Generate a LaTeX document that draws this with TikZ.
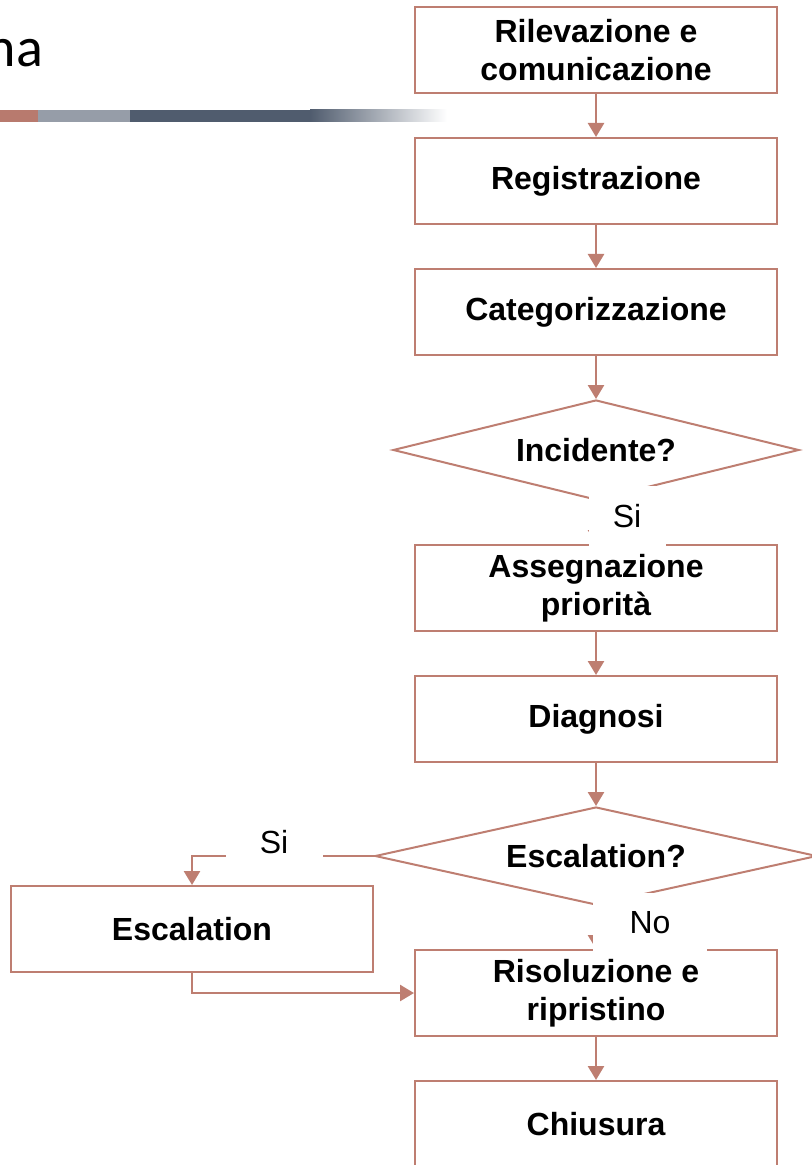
\documentclass[tikz,border=0pt]{standalone}
\usepackage{fontspec}
\setmainfont{Liberation Sans}
\newfontfamily\titlefont{Carlito}
\usetikzlibrary{positioning, shapes.geometric, arrows.meta}
\definecolor{myroseline}{RGB}{190, 126, 113}
\definecolor{mybarred}{RGB}{184, 122, 110}
\definecolor{mybargrey}{RGB}{150, 157, 168}
\definecolor{mybarslate}{RGB}{80, 92, 110}

\begin{document}
\begin{tikzpicture}[x = 0.5pt, y = -0.5pt, node distance = 21.5pt, line width = 1pt,
  state/.style = {draw = myroseline, rectangle, minimum width = 181pt, minimum height = 43pt, align = center, font = \bfseries\fontsize{16}{19}\selectfont},
  choice/.style = {draw = myroseline, diamond, aspect = 4, inner sep = 0pt, font = \bfseries\fontsize{16}{19}\selectfont},
  answer/.style = {fill = white, inner sep = 0pt, font = \fontsize{16}{19}\selectfont},
  flow/.style = {draw = myroseline, line width = 1.3pt, -{Triangle[length = 7pt, width = 8pt]}}]
  \clip (0,0) rectangle (812,1165);

  % title
  \node [anchor = base east, inner sep = 0pt, font = \titlefont\fontsize{28}{34}\selectfont] (title) at (44,67) {na};
  \fill [mybarred] (0,110) rectangle (38,122);
  \fill [mybargrey] (38,110) rectangle (130,122);
  \fill [mybarslate] (130,110) rectangle (310,122);
  \shade [left color = mybarslate, right color = white] (310,110) rectangle (447,122);

  % nodes
  \node [state] (rilev) at (596,50) {Rilevazione e\\comunicazione};
  \node [state][below = of rilev] (regis) {Registrazione};
  \node [state][below = of regis] (categ) {Categorizzazione};
  \node [choice, minimum width = 203pt, minimum height = 50pt][below = of categ] (incid) {Incidente?};
  \node [state][below = of incid] (prior) {Assegnazione\\priorità};
  \node [state][below = of prior] (diagn) {Diagnosi};
  \node [choice, minimum width = 221pt, minimum height = 49pt][below = of diagn] (esc_q) {Escalation?};
  \node [state][below = of esc_q] (risol) {Risoluzione e\\ripristino};
  \node [state][below = of risol] (chius) {Chiusura};
  \node [state] (escal) at (192,929) {Escalation};

  % edges
  \draw [flow] (rilev) to (regis);
  \draw [flow] (regis) to (categ);
  \draw [flow] (categ) to (incid);
  \draw [flow] (incid) to (prior);
  \draw [flow] (prior) to (diagn);
  \draw [flow] (diagn) to (esc_q);
  \draw [flow] (esc_q.west) -| (escal.north);
  \draw [flow] (esc_q) to (risol);
  \draw [flow] (escal.south) |- (risol.west);
  \draw [flow] (risol) to (chius);

  % answers
  \node [answer, minimum width = 38.5pt, minimum height = 30pt] (si_inc) at (627,516) {Si};
  \node [answer, minimum width = 57pt, minimum height = 30pt] (no_esc) at (650,923) {No};
  \node [answer, minimum width = 48.5pt, minimum height = 27pt] (si_esc) at (274,842) {Si};
\end{tikzpicture}
\end{document}
